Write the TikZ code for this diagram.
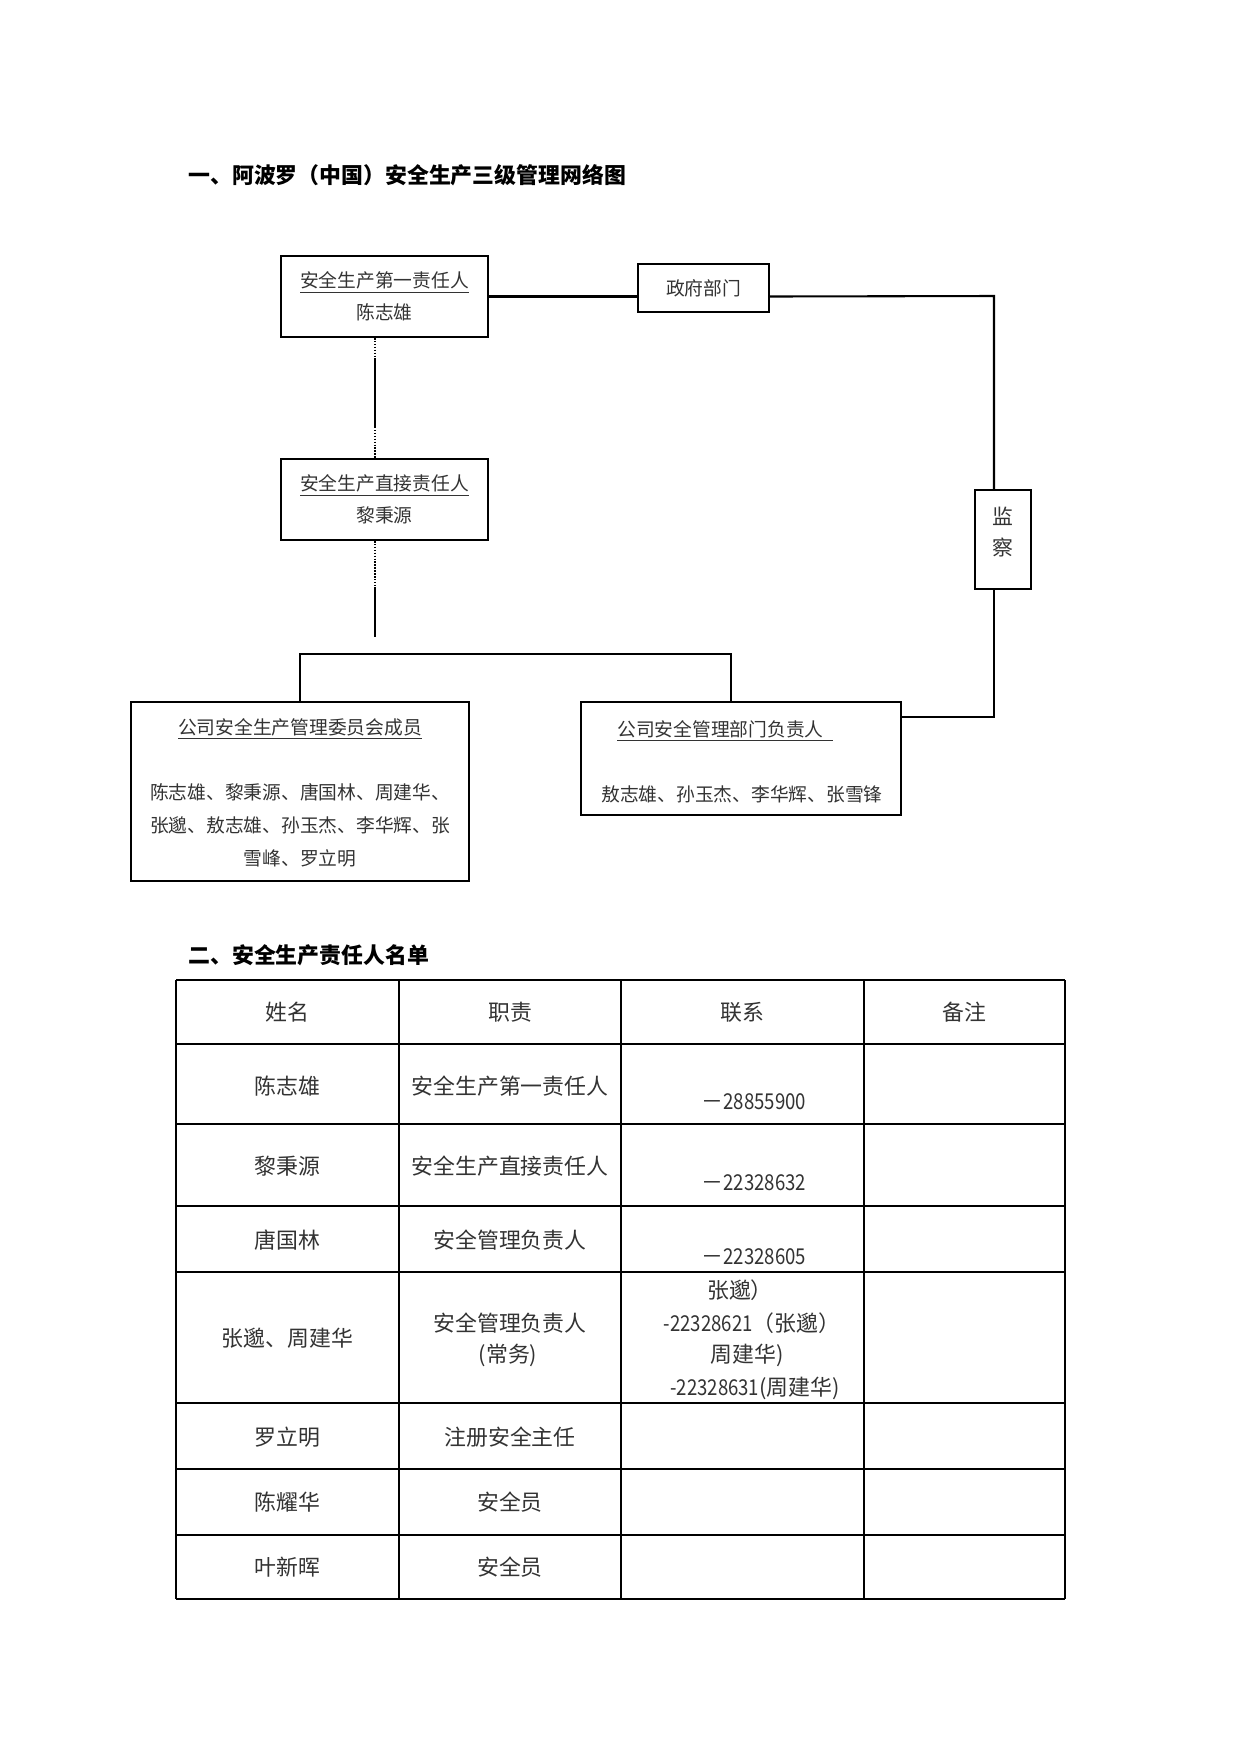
\documentclass[tikz,border=0pt]{standalone}
\usepackage{fontspec}
\setmainfont{Noto Sans CJK SC}
\newfontfamily\narrowdig{Noto Sans CJK SC}[FakeStretch=0.85]
\newlength\px
\setlength\px{0.48pt}
\newcommand\dgsmall{\fontsize{9pt}{15.4pt}\selectfont}
\newcommand\dgnames{\fontsize{9pt}{15.8pt}\selectfont}
\newcommand\dgmid{\fontsize{10pt}{14.9pt}\selectfont}
\newcommand\dgtab{\fontsize{10.5pt}{15.7pt}\selectfont}
\newcommand\dghead{\fontsize{10.5pt}{15.7pt}\selectfont\bfseries}
\newcommand\nd[1]{{\narrowdig #1}}
\definecolor{txt}{gray}{0.2}
\tikzset{
  box/.style={draw, line width=1pt, inner sep=0pt, align=center, text=txt},
  conn/.style={line width=1pt},
  dots/.style={line width=0.9pt, dash pattern=on 0.7pt off 0.7pt},
  lbl/.style={inner sep=0pt, text=txt, font=\dgsmall},
  tlbl/.style={inner sep=0pt, text=txt, font=\dgtab},
  thickrule/.style={line width=1.1pt},
  thinrule/.style={line width=0.6pt},
  heading/.style={inner sep=0pt, anchor=west, font=\dghead}
}
\begin{document}
\begin{tikzpicture}[x=0.48pt,y=-0.48pt]
\fill[white] (0,0) rectangle (1241,1754);
\useasboundingbox (0,0) rectangle (1241,1754);

% ---------- Section 1 ----------
\node[heading] (h1title) at (188,175) {一、阿波罗（中国）安全生产三级管理网络图};

\node[box, minimum width=207\px, minimum height=81\px, font=\dgsmall] (b1) at (384.5,296.5) {\underline{安全生产第一责任人}\\陈志雄};
\node[box, minimum width=131\px, minimum height=48\px, font=\dgsmall] (gov) at (703.5,288) {政府部门};
\node[box, minimum width=56\px, minimum height=99\px] (jc) at (1003,539.5) {};
\node[lbl, align=center, font=\dgmid] (jct) at (1003,532.5) {监\\察};
\node[box, minimum width=207\px, minimum height=81\px, font=\dgsmall] (b2) at (384.5,499.5) {\underline{安全生产直接责任人}\\黎秉源};
\node[box, minimum width=338\px, minimum height=179\px] (b3) at (300,791.5) {};
\node[lbl] (b3t) at (300,729) {\underline{公司安全生产管理委员会成员}};
\node[lbl, align=center, font=\dgnames] (b3n) at (300,825) {陈志雄、黎秉源、唐国林、周建华、\\张邈、敖志雄、孙玉杰、李华辉、张\\雪峰、罗立明};
\node[box, minimum width=320\px, minimum height=113\px] (b4) at (741,758.5) {};
\node[lbl, anchor=west] (b4t) at (617,731) {\underline{公司安全管理部门负责人\hspace{0.5em}}};
\node[lbl] (b4n) at (742,794) {敖志雄、孙玉杰、李华辉、张雪锋};

% connectors
\coordinate (gR) at (994,296);
\coordinate (gB) at (994,717);
\draw[conn] (b1.east) -- (b1.east -| gov.west);
\draw[conn] (gov.east |- b1.east) -- (gR) -- (gR |- jc.north);
\draw[conn] (gR |- jc.south) -- (gB) -- (gB -| b4.east);

\coordinate (v1) at (375,360);
\coordinate (v2) at (375,427);
\draw[dots] (b1.south -| v1) -- (v1);
\draw[conn] (v1) -- (v2);
\draw[dots] (v2) -- (v2 |- b2.north);
\coordinate (v3) at (375,587);
\coordinate (v4) at (375,637);
\draw[dots] (b2.south -| v3) -- (v3);
\draw[conn] (v3) -- (v4);
\coordinate (hl) at (300,654);
\coordinate (hr) at (731,654);
\draw[conn] (b3.north -| hl) -- (hl) -- (hr) -- (hr |- b4.north);

% ---------- Section 2 ----------
\node[heading] (h2title) at (188,955) {二、安全生产责任人名单};

% table rules
\foreach \yy in {980,1044,1206,1272,1403,1469,1535,1599}
  \draw[thinrule] (176,\yy) -- (1065,\yy);
\draw[thickrule] (176,1124) -- (1065,1124);
\foreach \xx in {176,399,864,1065}
  \draw[thinrule] (\xx,980) -- (\xx,1599);
\draw[thickrule] (621,980) -- (621,1599);

% header
\node[tlbl] (th1) at (287.5,1012) {姓名};
\node[tlbl] (th2) at (510,1012) {职责};
\node[tlbl] (th3) at (742,1012) {联系};
\node[tlbl] (th4) at (964,1012) {备注};

% row 1
\node[tlbl] (r1a) at (287.5,1086) {陈志雄};
\node[tlbl] (r1b) at (510,1086) {安全生产第一责任人};
\node[tlbl] (r1c) at (754,1102) {－\nd{28855900}};
% row 2
\node[tlbl] (r2a) at (287.5,1166) {黎秉源};
\node[tlbl] (r2b) at (510,1166) {安全生产直接责任人};
\node[tlbl] (r2c) at (754,1183) {－\nd{22328632}};
% row 3
\node[tlbl] (r3a) at (287.5,1240) {唐国林};
\node[tlbl] (r3b) at (510,1240) {安全管理负责人};
\node[tlbl] (r3c) at (754,1257) {－\nd{22328605}};
% row 4
\node[tlbl] (r4a) at (287.5,1338) {张邈、周建华};
\node[tlbl] (r4b1) at (510,1323) {安全管理负责人};
\node[tlbl] (r4b2) at (508,1355) {(常务)};
\node[tlbl] (r4c1) at (740,1290) {张邈）};
\node[tlbl] (r4c2) at (752,1323) {\nd{-22328621}（张邈）};
\node[tlbl] (r4c3) at (747,1355) {周建华)};
\node[tlbl] (r4c4) at (755,1388) {\nd{-22328631}(周建华)};
% rows 5-7
\node[tlbl] (r5a) at (287.5,1437) {罗立明};
\node[tlbl] (r5b) at (510,1437) {注册安全主任};
\node[tlbl] (r6a) at (287.5,1502) {陈耀华};
\node[tlbl] (r6b) at (510,1502) {安全员};
\node[tlbl] (r7a) at (287.5,1567) {叶新晖};
\node[tlbl] (r7b) at (510,1567) {安全员};
\end{tikzpicture}
\end{document}
